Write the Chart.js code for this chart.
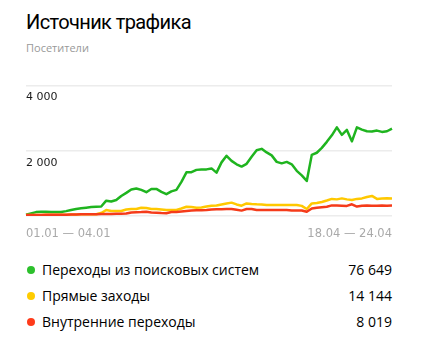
<!DOCTYPE html>
<html lang="ru">
<head>
<meta charset="utf-8">
<title>Источник трафика</title>
<script src="https://cdn.jsdelivr.net/npm/chart.js@4.4.1/dist/chart.umd.min.js"></script>
<style>
  body {
    margin: 0;
    width: 424px;
    height: 352px;
    background: #fff;
    position: relative;
    overflow: hidden;
    font-family: "Open Sans", "Noto Sans", sans-serif;
  }
  #title {
    position: absolute;
    left: 26px;
    top: 8px;
    font-family: Roboto, "Liberation Sans", sans-serif;
    font-size: 20px;
    letter-spacing: -0.6px;
    line-height: 28px;
    color: #000;
  }
  #subtitle {
    position: absolute;
    left: 26px;
    top: 40px;
    font-size: 11px;
    line-height: 16px;
    color: #999;
  }
  #chartWrap {
    position: absolute;
    left: 0;
    top: 79px;
    width: 424px;
    height: 167px;
  }
  .row {
    position: absolute;
    left: 26px;
    width: 366px;
    height: 20px;
    font-size: 14px;
    line-height: 20px;
    color: #000;
  }
  .row .dot {
    position: absolute;
    left: 1px;
    top: 6px;
    width: 8px;
    height: 8px;
    border-radius: 50%;
  }
  .row .name { position: absolute; left: 16px; }
  .row .total { position: absolute; right: 0; }
</style>
</head>
<body>
<div id="title">Источник трафика</div>
<div id="subtitle">Посетители</div>
<div id="chartWrap"><canvas id="trafficChart"></canvas></div>
<div id="legend"></div>

<script>
// period labels, only the first and the last are shown
const xLabels = ['01.01 — 04.01', ...Array(72).fill(''), '18.04 — 24.04'];

// visitors per period
const searchVisits = [40, 80, 120, 130, 130, 125, 120, 125, 150, 185,
  215, 235, 255, 275, 285, 290, 470, 445, 490, 615,
  710, 815, 845, 800, 730, 830, 830, 740, 670, 755,
  800, 1045, 1340, 1345, 1415, 1430, 1430, 1460, 1330, 1645,
  1845, 1690, 1585, 1515, 1600, 1815, 2015, 2060, 1950, 1860,
  1660, 1615, 1660, 1585, 1385, 1245, 1075, 1875, 1940, 2090,
  2275, 2475, 2720, 2490, 2640, 2290, 2720, 2650, 2600, 2590,
  2620, 2580, 2600, 2680];
const directVisits = [30, 30, 30, 30, 35, 35, 35, 40, 40, 45,
  45, 50, 50, 55, 55, 90, 185, 155, 155, 155,
  200, 215, 215, 255, 245, 215, 215, 200, 185, 185,
  185, 230, 285, 275, 255, 260, 290, 315, 320, 355,
  385, 410, 355, 315, 385, 370, 360, 355, 340, 340,
  340, 340, 340, 340, 340, 310, 215, 385, 400, 430,
  475, 525, 510, 540, 510, 490, 525, 540, 585, 615,
  525, 540, 545, 540];
const internalVisits = [30, 30, 30, 30, 35, 35, 35, 40, 40, 45,
  45, 50, 50, 55, 55, 60, 65, 65, 70, 70,
  75, 110, 115, 120, 130, 110, 100, 90, 85, 120,
  125, 140, 155, 170, 175, 180, 185, 200, 205, 210,
  215, 215, 190, 165, 215, 215, 185, 185, 185, 185,
  185, 185, 185, 170, 170, 170, 130, 230, 255, 270,
  285, 325, 320, 315, 310, 360, 290, 315, 320, 315,
  315, 320, 315, 320];

// legend: names and totals
const sourceNames = ['Переходы из поисковых систем', 'Прямые заходы', 'Внутренние переходы'];
const sourceTotals = [76649, 14144, 8019];
const yTicks = [0, 2000, 4000];

const COLORS = ['#1fb41f', '#ffc800', '#f53b1a'];
const DOT_COLORS = ['#2cc02c', '#ffcc00', '#ff3b1a'];

// 76649 -> "76 649"
function formatNumber(num) {
  return String(num).replace(/\B(?=(\d{3})+(?!\d))/g, ' ');
}

function dataset(label, data, color, order) {
  return {
    label: label,
    data: data,
    borderColor: color,
    backgroundColor: color,
    borderWidth: 2.5,
    pointRadius: 0,
    tension: 0,
    fill: false,
    borderJoinStyle: 'round',
    order: order
  };
}

new Chart(document.getElementById('trafficChart').getContext('2d'), {
  type: 'line',
  data: {
    labels: xLabels,
    datasets: [
      dataset(sourceNames[0], searchVisits, COLORS[0], 3),
      dataset(sourceNames[1], directVisits, COLORS[1], 2),
      dataset(sourceNames[2], internalVisits, COLORS[2], 1)
    ]
  },
  options: {
    responsive: true,
    maintainAspectRatio: false,
    animation: false,
    layout: { padding: { left: 26, right: 32, top: 0, bottom: 0 } },
    plugins: {
      legend: { display: false },
      tooltip: { enabled: false }
    },
    scales: {
      x: {
        afterFit: axis => { axis.height = 30; },
        grid: { display: false },
        border: { display: false },
        ticks: {
          autoSkip: false,
          maxRotation: 0,
          align: 'inner',
          padding: 3,
          color: '#a9a9a9',
          font: { family: 'DejaVu Sans', size: 11.5 },
          callback: (value, i) => xLabels[i]
        }
      },
      y: {
        min: yTicks[0],
        max: yTicks[yTicks.length - 1],
        afterBuildTicks: axis => { axis.ticks = yTicks.map(v => ({ value: v })); },
        grid: { color: '#ececec', lineWidth: 1.5, drawTicks: false },
        border: { display: false },
        ticks: {
          mirror: true,
          padding: 0,
          labelOffset: 12,
          color: '#1a1a1a',
          font: { family: 'DejaVu Sans', size: 11 },
          callback: v => v === 0 ? '' : formatNumber(v)
        }
      }
    }
  }
});

// legend rows with totals
const legend = document.getElementById('legend');
const rowTops = [260, 286, 312];
sourceNames.forEach((name, i) => {
  const row = document.createElement('div');
  row.className = 'row';
  row.style.top = rowTops[i] + 'px';
  row.innerHTML = '<span class="dot" style="background:' + DOT_COLORS[i] + '"></span>' +
    '<span class="name">' + name + '</span>' +
    '<span class="total">' + formatNumber(sourceTotals[i]) + '</span>';
  legend.appendChild(row);
});
</script>
</body>
</html>
